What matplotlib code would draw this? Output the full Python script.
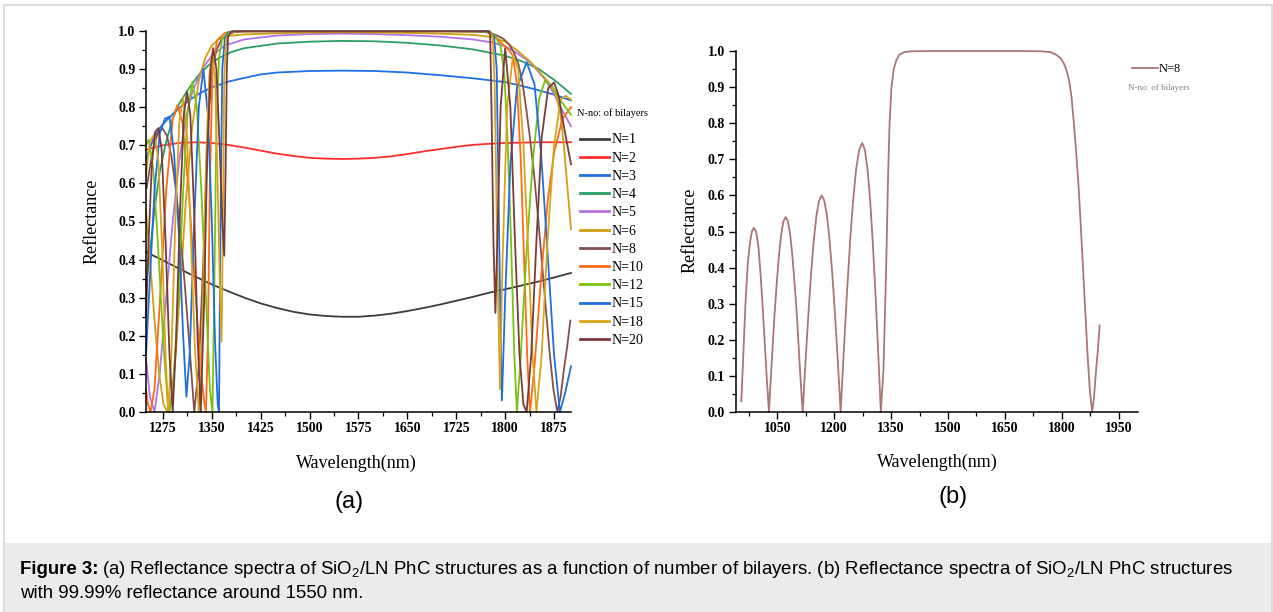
import numpy as np
import matplotlib
matplotlib.use("Agg")
import matplotlib.pyplot as plt
from matplotlib.patches import Rectangle
from matplotlib.ticker import MultipleLocator

plt.rcParams["font.family"] = ["Liberation Serif", "DejaVu Serif"]
plt.rcParams["mathtext.default"] = "regular"

# ---- reflectance spectra, N = number of SiO2/LN bilayers ----
wl_n1 = [1249, 1275, 1300, 1325, 1350, 1375, 1400, 1425, 1450, 1475, 1500, 1525, 1550, 1575,
         1600, 1625, 1650, 1675, 1700, 1725, 1750, 1775, 1800, 1825, 1850, 1875, 1901]
r_n1 = [0.420, 0.398, 0.376, 0.355, 0.335, 0.317, 0.300, 0.285, 0.273, 0.263, 0.256, 0.252, 0.250, 0.250,
        0.253, 0.258, 0.265, 0.273, 0.282, 0.292, 0.302, 0.313, 0.322, 0.332, 0.342, 0.353, 0.365]

wl_n2 = [1249, 1275, 1300, 1325, 1350, 1375, 1400, 1425, 1450, 1475, 1500, 1525, 1550, 1575,
         1600, 1625, 1650, 1675, 1700, 1725, 1750, 1775, 1800, 1825, 1850, 1875, 1901]
r_n2 = [0.688, 0.700, 0.706, 0.708, 0.706, 0.701, 0.694, 0.686, 0.678, 0.672, 0.667, 0.665, 0.664, 0.665,
        0.667, 0.671, 0.677, 0.684, 0.690, 0.696, 0.701, 0.704, 0.706, 0.707, 0.708, 0.708, 0.708]

wl_n3 = [1249, 1260, 1270, 1280, 1290, 1300, 1315, 1330, 1350, 1375, 1400, 1425, 1450, 1500,
         1550, 1600, 1650, 1700, 1750, 1800, 1825, 1850, 1875, 1901]
r_n3 = [0.665, 0.715, 0.745, 0.765, 0.782, 0.798, 0.818, 0.835, 0.852, 0.867, 0.877, 0.886, 0.891, 0.895,
        0.896, 0.895, 0.891, 0.884, 0.876, 0.866, 0.856, 0.845, 0.833, 0.818]

wl_n4 = [1249, 1255, 1262, 1270, 1280, 1290, 1300, 1315, 1330, 1345, 1360, 1380, 1400, 1450, 1500,
         1550, 1600, 1650, 1700, 1750, 1800, 1825, 1850, 1875, 1901]
r_n4 = [0.33, 0.42, 0.53, 0.63, 0.71, 0.77, 0.81, 0.85, 0.885, 0.91, 0.928, 0.945, 0.955, 0.967, 0.972,
        0.974, 0.973, 0.969, 0.962, 0.952, 0.935, 0.921, 0.902, 0.872, 0.835]

wl_n5 = [1249, 1255, 1262, 1270, 1280, 1290, 1300, 1310, 1320, 1335, 1350, 1370, 1400, 1450, 1500,
         1550, 1600, 1650, 1700, 1750, 1780, 1800, 1820, 1840, 1860, 1875, 1885, 1893, 1901]
r_n5 = [0.14, 0.04, 0.0, 0.10, 0.30, 0.50, 0.66, 0.77, 0.84, 0.90, 0.935, 0.962, 0.978, 0.988, 0.992,
        0.993, 0.992, 0.989, 0.985, 0.978, 0.970, 0.960, 0.940, 0.915, 0.875, 0.835, 0.80, 0.775, 0.75]

wl_n6 = [1249, 1256, 1263, 1270, 1276, 1282, 1288, 1295, 1302, 1310, 1320, 1330, 1340, 1350, 1360,
         1375, 1400, 1450, 1500, 1550, 1600, 1650, 1700, 1750, 1780, 1800, 1820, 1840, 1855, 1868,
         1878, 1885, 1890, 1895, 1901]
r_n6 = [0.53, 0.38, 0.22, 0.09, 0.02, 0.0, 0.04, 0.16, 0.34, 0.55, 0.75, 0.87, 0.93, 0.962, 0.978,
        0.987, 0.991, 0.994, 0.996, 0.997, 0.996, 0.995, 0.993, 0.99, 0.984, 0.972, 0.947, 0.917, 0.888, 0.862,
        0.832, 0.78, 0.70, 0.60, 0.48]

# N=8 was computed over the wider 955-1900 nm window (panel b)
wl_n8 = [955, 960, 966, 972, 978, 983, 988, 994, 1000, 1006, 1012, 1018, 1023, 1028,
         1031, 1036, 1042, 1048, 1054, 1060, 1066, 1072, 1078, 1084, 1090, 1096, 1102, 1108, 1113, 1117,
         1120, 1125, 1132, 1139, 1146, 1153, 1160, 1167, 1174, 1181, 1188, 1195, 1202, 1209, 1214, 1217,
         1220, 1226, 1234, 1242, 1250, 1258, 1266, 1274, 1281, 1288, 1295, 1302, 1309, 1316, 1320, 1323,
         1330, 1337, 1342, 1346, 1351, 1357, 1364, 1372, 1385, 1400,
         1450, 1500, 1550, 1600, 1650, 1700, 1750,
         1770, 1785, 1797, 1806, 1813, 1820, 1826, 1832, 1838, 1844, 1850, 1856, 1862, 1868,
         1874, 1880, 1885, 1890, 1895, 1900]
r_n8 = [0.03, 0.15, 0.30, 0.41, 0.47, 0.50, 0.51, 0.50, 0.46, 0.38, 0.28, 0.17, 0.08, 0.0,
        0.06, 0.15, 0.26, 0.35, 0.43, 0.49, 0.528, 0.54, 0.528, 0.49, 0.43, 0.35, 0.26, 0.15, 0.06, 0.0,
        0.057, 0.15, 0.272, 0.382, 0.474, 0.543, 0.585, 0.60, 0.585, 0.543, 0.474, 0.382, 0.272, 0.15,
        0.057, 0.0,
        0.061, 0.183, 0.336, 0.474, 0.588, 0.674, 0.727, 0.745, 0.726, 0.671, 0.583, 0.464, 0.323, 0.166,
        0.071, 0.0,
        0.12, 0.40, 0.65, 0.80, 0.90, 0.95, 0.975, 0.99, 0.997, 0.999,
        1.0, 1.0, 1.0, 1.0, 1.0, 1.0, 0.999,
        0.997, 0.99, 0.98, 0.965, 0.945, 0.915, 0.87, 0.80, 0.72, 0.63, 0.52, 0.40, 0.28, 0.16,
        0.06, 0.0, 0.04, 0.11, 0.17, 0.24]

wl_n10 = [1249, 1252, 1256, 1262, 1270, 1280, 1290, 1297, 1305, 1315,
          1325, 1333, 1338, 1341, 1344, 1347, 1351, 1358, 1370, 1385,
          1400, 1500, 1600, 1700, 1776, 1785, 1795, 1805, 1812, 1818,
          1824, 1829, 1834, 1838, 1845, 1855, 1865, 1875, 1888, 1901]
r_n10 = [0.06, 0.02, 0.0, 0.06, 0.28, 0.58, 0.77, 0.805, 0.76, 0.57,
         0.31, 0.11, 0.03, 0.0, 0.2, 0.6, 0.9, 0.975, 0.995, 0.999,
         1.0, 1.0, 1.0, 1.0, 0.999, 0.985, 0.967, 0.952, 0.935, 0.86,
         0.66, 0.40, 0.14, 0.0, 0.12, 0.35, 0.55, 0.68, 0.77, 0.80]

wl_n12 = [1249, 1253, 1260, 1268, 1276, 1282, 1285, 1290, 1298, 1306, 1313, 1320, 1327, 1334,
          1341, 1347, 1351, 1354, 1357, 1361, 1366, 1375, 1390, 1500, 1600, 1700,
          1776, 1785, 1793, 1799, 1804, 1809, 1814, 1818, 1824, 1832, 1842, 1852, 1861, 1872,
          1884, 1901]
r_n12 = [0.70, 0.715, 0.64, 0.42, 0.17, 0.03, 0.0, 0.05, 0.28, 0.58, 0.79, 0.866, 0.80, 0.58,
         0.30, 0.06, 0.0, 0.35, 0.75, 0.93, 0.98, 0.997, 1.0, 1.0, 1.0, 1.0,
         0.999, 0.985, 0.96, 0.88, 0.70, 0.45, 0.15, 0.0, 0.15, 0.40, 0.65, 0.82, 0.87, 0.855,
         0.82, 0.78]

wl_n15 = [1249, 1255, 1262, 1270, 1278, 1285, 1292, 1300, 1306, 1311, 1316, 1323, 1330, 1337,
          1344, 1350, 1355, 1359, 1361, 1363, 1366, 1370, 1376, 1390, 1500, 1600, 1700,
          1776, 1783, 1787, 1790, 1793, 1795, 1800, 1808, 1818, 1833, 1845, 1855, 1865, 1875,
          1884, 1892, 1901]
r_n15 = [0.15, 0.35, 0.58, 0.73, 0.77, 0.775, 0.68, 0.45, 0.20, 0.04, 0.15, 0.50, 0.80, 0.90,
         0.78, 0.50, 0.18, 0.02, 0.0, 0.45, 0.90, 0.98, 0.997, 1.0, 1.0, 1.0, 1.0,
         0.999, 0.985, 0.90, 0.55, 0.20, 0.03, 0.30, 0.65, 0.85, 0.918, 0.86, 0.68, 0.42, 0.15,
         0.0, 0.05, 0.12]

wl_n18 = [1249, 1255, 1262, 1268, 1274, 1279, 1283, 1288, 1294, 1300, 1306, 1312, 1318, 1324,
          1330, 1335, 1341, 1346, 1350, 1355, 1359, 1362, 1365, 1367, 1369, 1372, 1378, 1390,
          1500, 1600, 1700, 1776, 1781, 1784, 1788, 1792, 1796, 1803, 1812, 1820, 1828, 1836,
          1842, 1848, 1856, 1865, 1875, 1885, 1893, 1901]
r_n18 = [0.62, 0.71, 0.73, 0.66, 0.42, 0.15, 0.0, 0.15, 0.50, 0.76, 0.825, 0.72, 0.45, 0.17,
         0.0, 0.20, 0.65, 0.88, 0.94, 0.88, 0.60, 0.35, 0.185, 0.50, 0.88, 0.98, 0.997, 0.999,
         0.999, 0.999, 0.999, 0.998, 0.985, 0.85, 0.40, 0.06, 0.40, 0.80, 0.935, 0.90, 0.70, 0.40,
         0.15, 0.0, 0.15, 0.45, 0.70, 0.82, 0.83, 0.82]

wl_n20 = [1249, 1253, 1258, 1263, 1268, 1273, 1279, 1285, 1290, 1295, 1301, 1307, 1312, 1317,
          1323, 1328, 1333, 1338, 1343, 1348, 1352, 1357, 1362, 1366, 1369, 1371, 1373, 1375,
          1380, 1400, 1500, 1600, 1700, 1770, 1775, 1777, 1779, 1782, 1785, 1788, 1793, 1800,
          1808, 1815, 1822, 1828, 1833, 1840, 1848, 1856, 1866, 1875, 1882, 1890, 1901]
r_n20 = [0.25, 0.45, 0.65, 0.735, 0.745, 0.69, 0.45, 0.15, 0.0, 0.18, 0.52, 0.78, 0.84, 0.78,
         0.52, 0.20, 0.0, 0.28, 0.68, 0.90, 0.955, 0.90, 0.70, 0.50, 0.41, 0.62, 0.90, 0.985,
         0.999, 0.999, 0.999, 0.999, 0.999, 0.999, 0.999, 0.99, 0.80, 0.45, 0.26, 0.45, 0.80, 0.955,
         0.80, 0.45, 0.15, 0.02, 0.0, 0.15, 0.45, 0.72, 0.85, 0.865, 0.83, 0.75, 0.65]

labels_a = ["N=1", "N=2", "N=3", "N=4", "N=5", "N=6", "N=8", "N=10", "N=12", "N=15", "N=18", "N=20"]
colors_a = ["#3c3c3c", "#ff2d2d", "#1f6fe5", "#2ba064", "#b372e8", "#cf9f12",
            "#84504f", "#ff6a12", "#7ac212", "#1f6ee0", "#d8a41c", "#7a3b3b"]

xticks_a = [1275, 1350, 1425, 1500, 1575, 1650, 1725, 1800, 1875]
xticks_b = [1050, 1200, 1350, 1500, 1650, 1800, 1950]
yticks = [0.0, 0.1, 0.2, 0.3, 0.4, 0.5, 0.6, 0.7, 0.8, 0.9, 1.0]

W, H = 1273, 612
fig = plt.figure(figsize=(W / 100, H / 100), dpi=100)

# page frame and caption band
fig.patches.append(Rectangle((4 / W, 0), 1268 / W, 1 - 5 / H, transform=fig.transFigure,
                             fill=False, edgecolor="#dddddd", lw=1.5, zorder=0))
fig.patches.append(Rectangle((5 / W, 0), 1266 / W, 69 / H, transform=fig.transFigure,
                             facecolor="#ebebeb", edgecolor="none", zorder=0))

ax_a = fig.add_axes([146 / W, 1 - 412 / H, 425 / W, 381 / H])
ax_b = fig.add_axes([735.6 / W, 1 - 412 / H, 402 / W, 361 / H])


def style_axes(ax, xlim, xticks, xminor):
    ax.set_xlim(*xlim)
    ax.set_ylim(0, 1.0)
    for s in ("top", "right"):
        ax.spines[s].set_visible(False)
    for s in ("left", "bottom"):
        ax.spines[s].set_linewidth(1.1)
    ax.set_xticks(xticks, labels=[str(t) for t in xticks], fontsize=10, fontweight="bold")
    ax.set_yticks(yticks, labels=[f"{t:.1f}" for t in yticks], fontsize=10, fontweight="bold")
    ax.xaxis.set_minor_locator(MultipleLocator(xminor))
    ax.yaxis.set_minor_locator(MultipleLocator(0.05))
    ax.tick_params(which="major", direction="out", length=5, width=1.0, pad=2.5)
    ax.tick_params(which="minor", direction="out", length=3, width=0.9)


# (a) all bilayer counts
series_a = [(wl_n1, r_n1), (wl_n2, r_n2), (wl_n3, r_n3), (wl_n4, r_n4), (wl_n5, r_n5), (wl_n6, r_n6),
            (wl_n8, r_n8), (wl_n10, r_n10), (wl_n12, r_n12), (wl_n15, r_n15), (wl_n18, r_n18),
            (wl_n20, r_n20)]
for (wl, r), lab, c in zip(series_a, labels_a, colors_a):
    wl = np.asarray(wl)
    r = np.asarray(r)
    keep = (wl >= 1249) & (wl <= 1901)
    ax_a.plot(wl[keep], r[keep], color=c, lw=1.3, label=lab, clip_on=False)

style_axes(ax_a, (1249, 1901), xticks_a, 37.5)
ax_a.text(-0.127, 0.5, "Reflectance", rotation=90, ha="center", va="center",
          fontsize=13, transform=ax_a.transAxes)
ax_a.text(0.496, -0.134, "Wavelength(nm)", ha="center", va="center",
          fontsize=13, transform=ax_a.transAxes)
ax_a.text(1.014, 0.7856, "N-no: of bilayers", fontsize=7.5, ha="left", va="center",
          transform=ax_a.transAxes)
leg = ax_a.legend(loc="upper left", bbox_to_anchor=(1.021, 0.731), frameon=False, fontsize=10,
                  handlelength=2.1, handletextpad=0.15, labelspacing=0.375, borderpad=0,
                  borderaxespad=0)
for h in leg.get_lines():
    h.set_linewidth(2)

# (b) N=8 only
ax_b.plot(wl_n8, r_n8, color="#aa7676", lw=1.3, label="N=8", clip_on=False)
style_axes(ax_b, (940, 2000), xticks_b, 75)
ax_b.text(-0.113, 0.504, "Reflectance", rotation=90, ha="center", va="center",
          fontsize=13, transform=ax_b.transAxes)
ax_b.text(0.501, -0.1385, "Wavelength(nm)", ha="center", va="center",
          fontsize=13, transform=ax_b.transAxes)
leg_b = ax_b.legend(loc="center left", bbox_to_anchor=(0.985, 0.95), frameon=False, fontsize=9,
                    handlelength=2.1, handletextpad=0.1, borderpad=0, borderaxespad=0)
ax_b.text(1.053, 0.8975, "N-no: of bilayers", fontsize=6.5, color="#808080",
          ha="center", va="center", transform=ax_b.transAxes)

sans = ["Liberation Sans", "DejaVu Sans"]
fig.text(349 / W, 1 - 502 / H, "(a)", fontsize=17, family=sans, ha="center", va="center")
fig.text(953 / W, 1 - 497 / H, "(b)", fontsize=17, family=sans, ha="center", va="center")

# caption: bold lead-in followed by plain text
cap_fs = 13.4
renderer = fig.canvas.get_renderer()
lead = fig.text(20 / W, 1 - 569 / H, "Figure 3:", fontsize=cap_fs, family=sans,
                fontweight="bold", va="center")
bb = lead.get_window_extent(renderer)
fig.text((bb.x1 + 4) / W, 1 - 569 / H,
         "(a) Reflectance spectra of SiO$_2$/LN PhC structures as a function of number of bilayers. "
         "(b) Reflectance spectra of SiO$_2$/LN PhC structures",
         fontsize=cap_fs, family=sans, va="center")
fig.text(20 / W, 1 - 593 / H, "with 99.99% reflectance around 1550 nm.", fontsize=cap_fs,
         family=sans, va="center")

fig.savefig("out.png", dpi=100)
